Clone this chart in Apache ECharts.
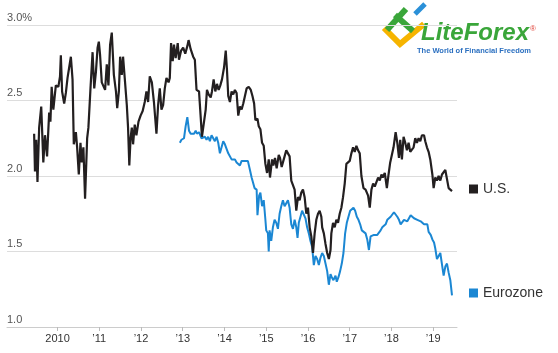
<!DOCTYPE html>
<html>
	<head>
		<meta charset="utf-8" />
		<title>U.S. vs Eurozone</title>
		<script src="https://cdn.jsdelivr.net/npm/echarts@6/dist/echarts.min.js"></script>
		<style>
			html, body {
				margin: 0;
				padding: 0;
				background: #fff;
			}
			#main {
				width: 558px;
				height: 353px;
			}
		</style>
	</head>
	<body>
		<div id="main"></div>
		<script>
			// x = decimal year, y = percent
			var usDates = [2009.44, 2009.46, 2009.49, 2009.52, 2009.56, 2009.61, 2009.66, 2009.70, 2009.75, 2009.80,
				2009.83, 2009.86, 2009.90, 2009.96, 2010.02, 2010.06, 2010.08, 2010.11, 2010.16, 2010.20,
				2010.24, 2010.32, 2010.36, 2010.39, 2010.44, 2010.47, 2010.51, 2010.55, 2010.58, 2010.62,
				2010.66, 2010.71, 2010.74, 2010.79, 2010.84, 2010.88, 2010.92, 2010.96, 2010.99, 2011.02,
				2011.06, 2011.10, 2011.14, 2011.18, 2011.22, 2011.26, 2011.30, 2011.35, 2011.40, 2011.43,
				2011.47, 2011.50, 2011.54, 2011.57, 2011.61, 2011.66, 2011.69, 2011.72, 2011.75, 2011.78,
				2011.81, 2011.85, 2011.89, 2011.94, 2011.99, 2012.04, 2012.09, 2012.13, 2012.17, 2012.21,
				2012.26, 2012.31, 2012.37, 2012.41, 2012.45, 2012.49, 2012.53, 2012.57, 2012.61, 2012.66,
				2012.69, 2012.72, 2012.76, 2012.79, 2012.83, 2012.88, 2012.91, 2012.96, 2013.01, 2013.06,
				2013.11, 2013.14, 2013.19, 2013.25, 2013.29, 2013.33, 2013.39, 2013.43, 2013.46, 2013.50,
				2013.55, 2013.58, 2013.62, 2013.67, 2013.70, 2013.74, 2013.78, 2013.82, 2013.86, 2013.90,
				2013.94, 2013.99, 2014.03, 2014.06, 2014.09, 2014.13, 2014.17, 2014.21, 2014.25, 2014.29,
				2014.33, 2014.37, 2014.41, 2014.45, 2014.49, 2014.53, 2014.58, 2014.63, 2014.67, 2014.71,
				2014.74, 2014.79, 2014.82, 2014.86, 2014.90, 2014.94, 2014.98, 2015.02, 2015.06, 2015.09,
				2015.14, 2015.17, 2015.21, 2015.25, 2015.30, 2015.33, 2015.37, 2015.41, 2015.44, 2015.48,
				2015.52, 2015.56, 2015.60, 2015.64, 2015.68, 2015.72, 2015.76, 2015.80, 2015.84, 2015.88,
				2015.92, 2015.96, 2016.00, 2016.04, 2016.08, 2016.12, 2016.16, 2016.20, 2016.24, 2016.28,
				2016.32, 2016.34, 2016.38, 2016.42, 2016.46, 2016.50, 2016.54, 2016.56, 2016.60, 2016.64,
				2016.68, 2016.72, 2016.76, 2016.80, 2016.84, 2016.88, 2016.92, 2016.96, 2017.00, 2017.04,
				2017.08, 2017.12, 2017.16, 2017.20, 2017.24, 2017.28, 2017.33, 2017.38, 2017.44, 2017.48,
				2017.52, 2017.56, 2017.60, 2017.64, 2017.68, 2017.72, 2017.76, 2017.79, 2017.84, 2017.89,
				2017.93, 2017.97, 2018.01, 2018.05, 2018.10, 2018.14, 2018.18, 2018.21, 2018.25, 2018.29,
				2018.33, 2018.37, 2018.41, 2018.45, 2018.49, 2018.53, 2018.57, 2018.61, 2018.65, 2018.69,
				2018.73, 2018.78, 2018.81, 2018.85, 2018.89, 2018.93, 2018.98, 2019.01, 2019.05, 2019.09,
				2019.13, 2019.17, 2019.21, 2019.25, 2019.29, 2019.33, 2019.37, 2019.41, 2019.45];
			var usValues = [2.28, 2.03, 2.24, 1.96, 2.32, 2.46, 2.09, 2.27, 2.13, 2.42,
				2.36, 2.59, 2.44, 2.60, 2.59, 2.66, 2.80, 2.56, 2.48, 2.55,
				2.65, 2.79, 2.64, 2.21, 2.29, 2.19, 2.01, 2.22, 2.09, 2.19,
				1.85, 2.25, 2.32, 2.58, 2.82, 2.58, 2.69, 2.85, 2.89, 2.80,
				2.62, 2.63, 2.57, 2.74, 2.60, 2.87, 2.95, 2.67, 2.56, 2.45,
				2.56, 2.79, 2.67, 2.79, 2.65, 2.47, 2.32, 2.07, 2.25, 2.32,
				2.21, 2.34, 2.27, 2.36, 2.40, 2.43, 2.49, 2.56, 2.49, 2.66,
				2.62, 2.49, 2.28, 2.47, 2.58, 2.44, 2.47, 2.58, 2.65, 2.62,
				2.65, 2.88, 2.76, 2.87, 2.78, 2.88, 2.77, 2.83, 2.85, 2.81,
				2.86, 2.90, 2.84, 2.79, 2.77, 2.57, 2.56, 2.39, 2.26, 2.25,
				2.44, 2.57, 2.54, 2.52, 2.56, 2.64, 2.56, 2.61, 2.57, 2.60,
				2.64, 2.72, 2.83, 2.70, 2.53, 2.49, 2.56, 2.54, 2.57, 2.55,
				2.40, 2.46, 2.44, 2.48, 2.53, 2.58, 2.59, 2.57, 2.53, 2.48,
				2.37, 2.38, 2.33, 2.31, 2.22, 2.20, 2.08, 2.02, 2.11, 1.99,
				2.11, 2.07, 2.12, 2.05, 2.14, 2.12, 2.06, 2.10, 2.13, 2.17,
				2.15, 2.13, 1.97, 1.96, 1.91, 1.77, 1.86, 1.84, 1.89, 1.91,
				1.86, 1.75, 1.79, 1.66, 1.60, 1.49, 1.62, 1.71, 1.75, 1.77,
				1.73, 1.66, 1.62, 1.55, 1.49, 1.45, 1.51, 1.62, 1.69, 1.66,
				1.71, 1.69, 1.75, 1.79, 1.86, 1.95, 2.08, 2.07, 2.10, 2.15,
				2.19, 2.16, 2.20, 2.17, 2.15, 2.00, 1.92, 1.91, 1.87, 1.79,
				1.91, 1.95, 1.93, 1.96, 1.99, 1.97, 2.01, 1.99, 2.02, 1.92,
				2.01, 2.09, 2.10, 2.19, 2.29, 2.22, 2.12, 2.24, 2.11, 2.26,
				2.22, 2.17, 2.22, 2.16, 2.17, 2.19, 2.25, 2.22, 2.25, 2.23,
				2.27, 2.27, 2.23, 2.19, 2.16, 2.11, 2.01, 1.92, 1.99, 1.97,
				2.00, 1.97, 2.01, 2.02, 2.04, 2.03, 1.92, 1.91, 1.90];

			var euDates = [2012.93, 2012.97, 2013.03, 2013.07, 2013.11, 2013.15, 2013.19, 2013.22, 2013.27, 2013.31,
				2013.34, 2013.39, 2013.45, 2013.49, 2013.53, 2013.57, 2013.61, 2013.65, 2013.69, 2013.73,
				2013.77, 2013.81, 2013.85, 2013.89, 2013.93, 2013.97, 2014.01, 2014.05, 2014.09, 2014.13,
				2014.17, 2014.21, 2014.25, 2014.29, 2014.33, 2014.37, 2014.41, 2014.45, 2014.49, 2014.53,
				2014.56, 2014.61, 2014.65, 2014.68, 2014.72, 2014.77, 2014.79, 2014.83, 2014.86, 2014.90,
				2014.94, 2014.98, 2015.00, 2015.04, 2015.06, 2015.08, 2015.12, 2015.16, 2015.20, 2015.24,
				2015.28, 2015.32, 2015.36, 2015.40, 2015.44, 2015.48, 2015.52, 2015.56, 2015.60, 2015.64,
				2015.68, 2015.72, 2015.75, 2015.78, 2015.83, 2015.86, 2015.90, 2015.94, 2015.98, 2016.02,
				2016.06, 2016.10, 2016.14, 2016.18, 2016.22, 2016.26, 2016.30, 2016.34, 2016.38, 2016.42,
				2016.46, 2016.50, 2016.54, 2016.57, 2016.61, 2016.66, 2016.69, 2016.73, 2016.77, 2016.81,
				2016.85, 2016.89, 2016.93, 2016.97, 2017.01, 2017.05, 2017.09, 2017.13, 2017.17, 2017.21,
				2017.25, 2017.29, 2017.33, 2017.38, 2017.42, 2017.46, 2017.50, 2017.54, 2017.58, 2017.62,
				2017.66, 2017.70, 2017.74, 2017.78, 2017.82, 2017.86, 2017.90, 2017.94, 2017.98, 2018.02,
				2018.06, 2018.10, 2018.14, 2018.18, 2018.22, 2018.26, 2018.30, 2018.34, 2018.38, 2018.42,
				2018.46, 2018.50, 2018.54, 2018.58, 2018.62, 2018.66, 2018.70, 2018.74, 2018.78, 2018.82,
				2018.86, 2018.89, 2018.94, 2018.98, 2019.02, 2019.05, 2019.09, 2019.13, 2019.17, 2019.21,
				2019.25, 2019.29, 2019.33, 2019.37, 2019.41, 2019.45];
			var euValues = [2.22, 2.24, 2.25, 2.33, 2.39, 2.30, 2.28, 2.29, 2.28, 2.30,
				2.28, 2.29, 2.25, 2.24, 2.26, 2.24, 2.26, 2.23, 2.27, 2.25,
				2.23, 2.26, 2.22, 2.15, 2.19, 2.23, 2.21, 2.18, 2.15, 2.14,
				2.11, 2.10, 2.11, 2.09, 2.10, 2.07, 2.10, 2.11, 2.10, 2.11,
				2.10, 2.04, 1.99, 1.96, 1.92, 1.91, 1.74, 1.87, 1.89, 1.80,
				1.84, 1.71, 1.64, 1.62, 1.50, 1.64, 1.57, 1.66, 1.71, 1.69,
				1.65, 1.75, 1.80, 1.84, 1.80, 1.82, 1.84, 1.79, 1.68, 1.65,
				1.71, 1.66, 1.59, 1.69, 1.74, 1.77, 1.76, 1.72, 1.66, 1.62,
				1.57, 1.53, 1.41, 1.47, 1.45, 1.41, 1.46, 1.49, 1.47, 1.42,
				1.37, 1.28, 1.35, 1.33, 1.31, 1.34, 1.30, 1.33, 1.37, 1.42,
				1.49, 1.62, 1.69, 1.73, 1.77, 1.77, 1.79, 1.77, 1.73, 1.71,
				1.68, 1.64, 1.64, 1.62, 1.58, 1.51, 1.60, 1.59, 1.61, 1.60,
				1.61, 1.62, 1.64, 1.66, 1.67, 1.68, 1.71, 1.72, 1.73, 1.74,
				1.76, 1.77, 1.73, 1.71, 1.68, 1.68, 1.71, 1.72, 1.70, 1.72,
				1.74, 1.73, 1.72, 1.72, 1.71, 1.71, 1.70, 1.69, 1.68, 1.67,
				1.68, 1.63, 1.61, 1.58, 1.56, 1.52, 1.45, 1.46, 1.49, 1.50,
				1.34, 1.40, 1.42, 1.36, 1.31, 1.21];

			var yearTicks = [2010, 2011, 2012, 2013, 2014, 2015, 2016, 2017, 2018, 2019];
			var yearLabels = ['2010', '\u201911', '\u201912', '\u201913', '\u201914', '\u201915', '\u201916', '\u201917', '\u201918', '\u201919'];
			var yLabels = {'3': '3.0%', '2.5': '2.5', '2': '2.0', '1.5': '1.5', '1': '1.0'};

			function pairs(xs, ys) {
				return xs.map(function(x, i) {
					return [x, ys[i]];
				});
			}

			var chart = echarts.init(document.getElementById('main'));
			var font = '"Liberation Sans", Arial, sans-serif';

			var option = {
				animation: false,
				backgroundColor: '#fff',
				textStyle: {
					fontFamily: font
				},
				grid: {
					left: 7,
					top: 25,
					width: 450,
					height: 302,
					containLabel: false,
					outerBoundsMode: 'none'
				},
				legend: [{
					data: ['U.S.'],
					left: 469,
					top: 182,
					padding: 0,
					icon: 'rect',
					itemWidth: 9,
					itemHeight: 9,
					itemGap: 5,
					textStyle: {
						fontSize: 14,
						color: '#333',
						fontFamily: font
					}
				}, {
					data: ['Eurozone'],
					left: 469,
					top: 286,
					padding: 0,
					icon: 'rect',
					itemWidth: 9,
					itemHeight: 9,
					itemGap: 5,
					textStyle: {
						fontSize: 14,
						color: '#333',
						fontFamily: font
					}
				}],
				xAxis: {
					type: 'value',
					min: 2008.79,
					max: 2019.57,
					axisLine: {
						show: true,
						lineStyle: {
							color: '#ccc'
						}
					},
					axisTick: {
						show: true,
						length: 4,
						customValues: yearTicks,
						lineStyle: {
							color: '#bbb'
						}
					},
					axisLabel: {
						customValues: yearTicks,
						margin: 6,
						fontSize: 11,
						color: '#333',
						formatter: function(v) {
							return yearLabels[yearTicks.indexOf(Math.round(v))];
						}
					},
					splitLine: {
						show: false
					}
				},
				yAxis: {
					type: 'value',
					min: 1,
					max: 3,
					interval: 0.5,
					axisLine: {
						show: false
					},
					axisTick: {
						show: false
					},
					axisLabel: {
						inside: true,
						margin: 0,
						fontSize: 11,
						color: '#555',
						verticalAlign: 'bottom',
						padding: [0, 0, 2, 0],
						formatter: function(v) {
							return yLabels[String(v)];
						}
					},
					splitLine: {
						lineStyle: {
							color: '#ddd',
							width: 1
						}
					}
				},
				series: [{
					name: 'Eurozone',
					type: 'line',
					data: pairs(euDates, euValues),
					showSymbol: false,
					color: '#1b87d3',
					lineStyle: {
						width: 2,
						color: '#1b87d3'
					}
				}, {
					name: 'U.S.',
					type: 'line',
					data: pairs(usDates, usValues),
					showSymbol: false,
					color: '#231f20',
					lineStyle: {
						width: 2.2,
						color: '#231f20'
					}
				}],
				// LiteForex watermark
				graphic: [{
					type: 'polyline',
					shape: {
						points: [[384, 28], [400, 44], [424, 24]]
					},
					style: {
						stroke: '#f6b400',
						lineWidth: 6,
						fill: null
					}
				}, {
					type: 'polyline',
					shape: {
						points: [[387, 30], [406, 9]]
					},
					style: {
						stroke: '#3aa63a',
						lineWidth: 6,
						fill: null
					}
				}, {
					type: 'polyline',
					shape: {
						points: [[395, 15], [413, 31]]
					},
					style: {
						stroke: '#3aa63a',
						lineWidth: 6,
						fill: null
					}
				}, {
					type: 'polyline',
					shape: {
						points: [[415, 14], [425, 4]]
					},
					style: {
						stroke: '#2a90d8',
						lineWidth: 5,
						fill: null
					}
				}, {
					type: 'text',
					left: 421,
					top: 21,
					style: {
						text: 'LiteForex',
						fill: '#3aa63a',
						font: 'italic bold 24px ' + font
					}
				}, {
					type: 'text',
					left: 530,
					top: 25,
					style: {
						text: '\u00ae',
						fill: '#e0443a',
						font: '8px ' + font
					}
				}, {
					type: 'text',
					left: 417,
					top: 47,
					style: {
						text: 'The World of Financial Freedom',
						fill: '#2a6fc0',
						font: 'bold 7.5px ' + font
					}
				}]
			};

			chart.setOption(option);
		</script>
	</body>
</html>
